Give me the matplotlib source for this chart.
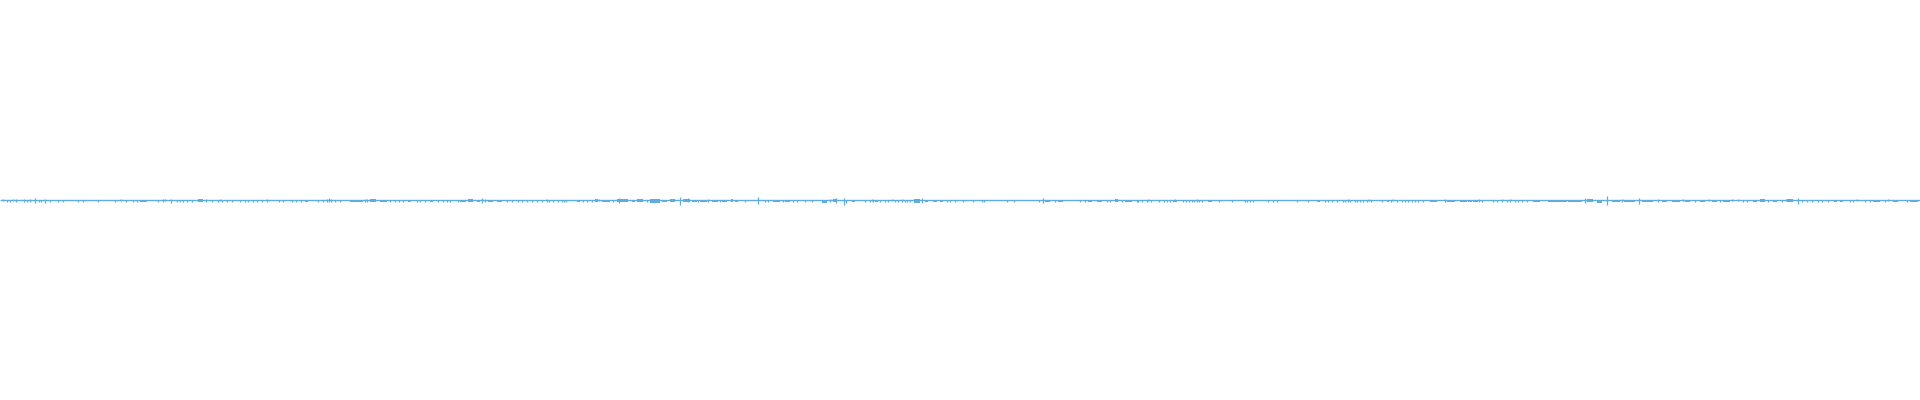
import matplotlib
matplotlib.use("Agg")
import matplotlib.pyplot as plt

# Audio waveform: time in frames (0..1920), amplitude in px-units.
duration = 1920

# Isolated peaks: time, amplitude above, amplitude below
spike_t = [3, 7, 10, 13, 16, 24, 27, 30, 35, 39, 41, 45, 50, 58, 63, 78, 83, 98, 115, 121, 126, 133, 137,
           158, 163, 165, 171, 177, 180, 183, 187, 192, 206, 212, 218, 220, 222, 227, 232, 240, 245, 248,
           253, 257, 262, 267, 279,
           283, 292, 296, 301, 318, 323, 327, 329, 331, 335, 340, 365, 367, 390, 395, 399, 403, 417, 420,
           425, 438, 443, 447, 450, 458, 482, 485, 507, 512, 518, 522, 527, 532, 537, 542, 547, 549, 553, 558,
           562, 564, 566, 583, 587, 592, 599, 613, 619, 647, 680, 688, 698, 708, 720, 745, 758, 765, 768,
           783, 793, 797, 805, 812, 830, 836,
           844, 846, 865, 870, 872, 873, 880, 885, 888, 892, 895, 898, 902, 905, 907, 910, 922, 947, 950,
           955, 963, 973, 982, 984, 1007, 1014, 1039, 1043, 1055, 1080, 1085, 1107, 1110,
           1122, 1137, 1138, 1142, 1147, 1148, 1151, 1159, 1164, 1167, 1170, 1175, 1183, 1186, 1189, 1192,
           1194, 1197, 1199, 1202, 1219, 1232, 1245, 1247, 1250, 1253, 1268, 1273, 1277, 1297, 1308, 1325,
           1328, 1332, 1337, 1343, 1345, 1348, 1350, 1355, 1357, 1360, 1363, 1367, 1369, 1371, 1382, 1391,
           1393, 1397,
           1402, 1405, 1408, 1412, 1415, 1418, 1423, 1445, 1479, 1482, 1493, 1497, 1502, 1507, 1510, 1515,
           1518, 1522, 1527, 1585, 1607, 1622, 1639, 1658,
           1683, 1695, 1709, 1720, 1732, 1738, 1743, 1747, 1768, 1782, 1786, 1798, 1802, 1807, 1812, 1818,
           1822, 1828, 1850, 1853, 1857, 1865, 1870, 1885, 1888, 1907]
spike_up = [1, 0, 0, 1, 1, 1, 0, 1, 2, 0, 0, 1, 0, 0, 0, 0, 0, 0, 0, 1, 0, 0, 0,
            0, 1, 1, 1, 0, 0, 0, 0, 0, 1, 0, 0, 1, 0, 0, 0, 0, 0, 0,
            0, 0, 0, 1, 0,
            0, 0, 0, 0, 0, 0, 1, 2, 1, 0, 0, 1, 1, 0, 0, 0, 0, 0, 0,
            0, 0, 0, 0, 0, 0, 2, 1, 0, 0, 0, 0, 0, 0, 0, 0, 1, 0, 0, 0,
            0, 0, 0, 0, 0, 0, 1, 0, 2, 0, 3, 2, 0, 1, 0, 0, 3, 0, 0,
            0, 0, 0, 0, 0, 1, 2,
            2, 0, 0, 0, 1, 0, 0, 0, 0, 1, 0, 0, 1, 0, 0, 0, 2, 0, 0,
            0, 0, 0, 0, 0, 0, 0, 0, 2, 0, 0, 0, 0, 0,
            0, 0, 0, 0, 0, 1, 0, 0, 0, 0, 0, 1, 0, 0, 0, 0,
            0, 1, 0, 0, 0, 0, 0, 0, 0, 0, 0, 0, 0, 0, 0, 0,
            0, 0, 0, 0, 0, 1, 0, 0, 0, 0, 0, 0, 1, 0, 0, 0,
            1, 0,
            0, 0, 0, 0, 0, 0, 0, 1, 1, 0, 0, 0, 1, 0, 1, 0,
            0, 0, 0, 2, 4, 1, 2, 1,
            1, 0, 1, 0, 1, 1, 0, 0, 0, 0, 1, 2, 0, 0, 0, 0,
            0, 0, 0, 0, 1, 0, 0, 0, 1, 0]
spike_down = [0, 1, 1, 0, 1, 1, 1, 1, 2, 1, 1, 2, 1, 1, 1, 1, 1, 1, 1, 0, 1, 1, 1,
              1, 1, 0, 2, 1, 1, 1, 1, 1, 1, 1, 1, 0, 1, 1, 1, 1, 1, 1,
              1, 1, 1, 1, 1,
              1, 1, 1, 1, 1, 1, 1, 1, 1, 1, 1, 1, 1, 1, 1, 1, 1, 1, 1,
              1, 1, 1, 1, 1, 1, 2, 1, 1, 1, 1, 1, 1, 1, 1, 1, 1, 1, 1, 1,
              1, 1, 1, 1, 1, 1, 0, 1, 2, 1, 4, 1, 1, 1, 1, 1, 3, 1, 1,
              1, 1, 1, 1, 1, 1, 2,
              4, 2, 1, 1, 0, 1, 1, 1, 1, 0, 1, 1, 1, 1, 1, 1, 2, 1, 1,
              1, 1, 1, 1, 1, 1, 1, 1, 2, 1, 1, 1, 1, 1,
              1, 1, 1, 1, 1, 0, 1, 1, 1, 1, 1, 0, 1, 1, 1, 1,
              1, 1, 1, 1, 1, 1, 1, 1, 1, 1, 1, 1, 1, 1, 1, 1,
              1, 1, 1, 1, 1, 1, 1, 1, 1, 1, 1, 1, 0, 1, 1, 1,
              0, 1,
              1, 1, 1, 1, 1, 1, 1, 1, 1, 1, 1, 1, 1, 1, 1, 1,
              1, 1, 1, 2, 4, 1, 3, 1,
              0, 1, 0, 1, 0, 0, 1, 1, 1, 1, 0, 3, 1, 1, 1, 1,
              1, 1, 1, 1, 0, 1, 1, 1, 0, 1]

# Dense stretches of activity: start, end, amplitude above, amplitude below
band_start = [140, 198, 305, 350, 370, 380, 408, 430, 460, 468, 477, 488, 497,
              577, 595, 602, 617, 622, 632, 637, 650, 662, 670, 683, 692, 700, 712, 722, 731, 735, 773, 785,
              822, 833,
              852, 875, 914, 925, 933, 940, 1045, 1058, 1088, 1097, 1115,
              1125, 1173, 1208, 1317, 1387,
              1430, 1447, 1460, 1468, 1473, 1533, 1548, 1568, 1587, 1597, 1612, 1624, 1642, 1662, 1672,
              1685, 1700, 1712, 1723, 1753, 1760, 1773, 1787, 1834, 1840, 1873, 1893, 1910]
band_end = [147, 203, 308, 363, 376, 387, 411, 433, 466, 473, 480, 493, 502,
            580, 598, 610, 622, 628, 635, 643, 660, 667, 675, 690, 697, 707, 718, 727, 733, 738, 780, 790,
            827, 837,
            855, 878, 920, 928, 937, 943, 1050, 1063, 1092, 1102, 1118,
            1132, 1177, 1212, 1320, 1389,
            1437, 1455, 1467, 1472, 1478, 1540, 1567, 1582, 1593, 1602, 1620, 1635, 1653, 1667, 1680,
            1690, 1705, 1717, 1730, 1757, 1765, 1777, 1793, 1837, 1843, 1880, 1898, 1918]
band_up = [0, 1, 0, 0, 1, 0, 0, 0, 0, 1, 0, 0, 0,
           0, 1, 0, 1, 1, 0, 1, 1, 0, 1, 1, 0, 0, 0, 0, 1, 0, 0, 0,
           0, 1,
           0, 0, 1, 0, 0, 0, 0, 0, 0, 0, 1,
           0, 0, 0, 0, 0,
           0, 0, 0, 0, 0, 0, 0, 0, 1, 0, 0, 0, 0, 0, 0,
           0, 0, 0, 0, 0, 1, 0, 1, 0, 0, 0, 0, 0]
band_down = [1, 1, 1, 1, 1, 1, 1, 1, 1, 1, 1, 1, 1,
             1, 1, 1, 1, 1, 1, 1, 2, 1, 1, 1, 1, 1, 1, 1, 1, 1, 1, 1,
             2, 1,
             1, 1, 2, 1, 1, 1, 1, 1, 1, 1, 1,
             1, 1, 1, 1, 1,
             1, 1, 1, 1, 1, 1, 1, 1, 1, 2, 1, 1, 1, 1, 1,
             1, 1, 1, 1, 1, 1, 1, 1, 1, 1, 1, 1, 1]

color = "#5DADE2"

fig = plt.figure(figsize=(19.2, 4), dpi=100)
ax = fig.add_axes([0, 0, 1, 1])
ax.set_xlim(0, duration)
ax.set_ylim(-200, 200)
ax.axis("off")

# baseline
ax.plot([0, duration], [0, 0], color=color, lw=1.0, solid_capstyle="butt")

# peaks
ax.vlines(spike_t, [-(d + 0.5) for d in spike_down], [u + 0.5 for u in spike_up],
          color=color, lw=0.9)

# dense stretches
ax.bar(band_start, [u + d + 1 for u, d in zip(band_up, band_down)],
       width=[e - s for s, e in zip(band_start, band_end)],
       bottom=[-(d + 0.5) for d in band_down], align="edge", color=color, linewidth=0)

fig.savefig("out.png", dpi=100, facecolor="white")
